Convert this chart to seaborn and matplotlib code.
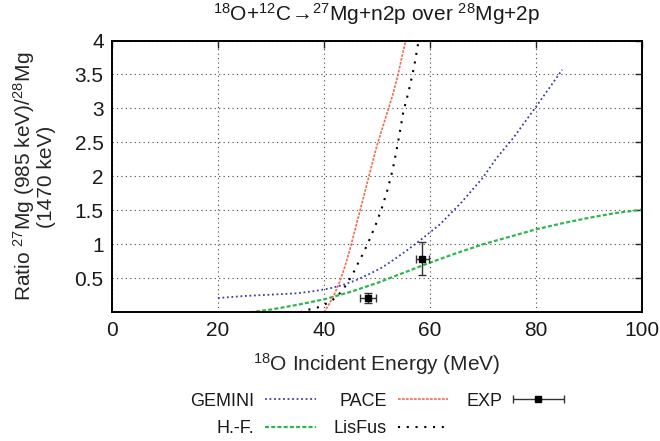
import numpy as np
import pandas as pd
import matplotlib
matplotlib.use("Agg")
import matplotlib.pyplot as plt
from matplotlib.container import ErrorbarContainer
from matplotlib.legend_handler import HandlerErrorbar
import seaborn as sns

# ---------------- data ----------------
gemini_x = [20, 25, 30, 35, 38, 41, 43.5, 46, 48.5, 51, 53.5, 56, 58.5, 62, 66, 70, 72.6, 75.7, 80, 85]
gemini_y = [0.21, 0.24, 0.26, 0.28, 0.31, 0.35, 0.40, 0.47, 0.56, 0.66, 0.79, 0.93, 1.08, 1.30, 1.62, 1.98, 2.27, 2.56, 3.02, 3.57]

hf_x = [26, 30, 35, 40, 45, 50, 55, 60, 65, 70, 75, 80, 85, 90, 95, 100]
hf_y = [0.0, 0.04, 0.11, 0.19, 0.30, 0.43, 0.58, 0.73, 0.87, 1.00, 1.11, 1.22, 1.31, 1.39, 1.46, 1.51]

pace_x = [40.0, 41.0, 42.0, 43.0, 44.0, 45.0, 46.0, 47.0, 48.0, 49.0, 50.0, 51.0, 52.0, 53.0, 54.0, 55.0, 55.6]
pace_y = [0.0, 0.12, 0.27, 0.45, 0.68, 0.95, 1.25, 1.55, 1.85, 2.15, 2.45, 2.70, 2.95, 3.20, 3.50, 3.85, 4.05]

lisfus_x = [35.5, 36.5, 38.5, 40.5, 42.0, 43.5, 44.5, 45.5, 46.5, 47.5, 48.5, 50.0, 51.0, 52.0, 53.0, 54.0, 55.0, 56.0, 57.0, 58.0]
lisfus_y = [0.0, 0.03, 0.06, 0.13, 0.20, 0.32, 0.44, 0.57, 0.73, 0.88, 1.05, 1.33, 1.55, 1.80, 2.10, 2.50, 2.95, 3.25, 3.60, 4.05]

exp_x = [48.4, 58.6]
exp_y = [0.21, 0.79]
exp_xerr = [1.5, 1.2]
exp_yerr = [0.08, 0.24]

x_ticks = [0, 20, 40, 60, 80, 100]
y_ticks = [0.5, 1, 1.5, 2, 2.5, 3, 3.5, 4]

# ---------------- style ----------------
sns.set_style("white")
plt.rcParams["font.family"] = ["Liberation Sans", "DejaVu Sans"]
plt.rcParams["mathtext.fontset"] = "custom"
plt.rcParams["mathtext.rm"] = "Liberation Sans"
plt.rcParams["mathtext.it"] = "Liberation Sans:italic"
plt.rcParams["mathtext.bf"] = "Liberation Sans:bold"
plt.rcParams["mathtext.fallback"] = "stixsans"
plt.rcParams["text.color"] = "#1a1a1a"

FS = 15

fig = plt.figure(figsize=(6.6, 4.41), dpi=100)
ax = fig.add_axes([112 / 660, 1 - 312.3 / 441, (641.7 - 112) / 660, (312.3 - 40.5) / 441])

sns.lineplot(x=gemini_x, y=gemini_y, ax=ax, color="#3c3cae", lw=1.3,
             linestyle=(0, (1, 1.5)), label="GEMINI", sort=False, estimator=None)
sns.lineplot(x=hf_x, y=hf_y, ax=ax, color="#2db84d", lw=1.6,
             linestyle=(0, (1.8, 1.0)), label="H.-F.", sort=False, estimator=None)
sns.lineplot(x=pace_x, y=pace_y, ax=ax, color="#f26a4f", lw=1.2,
             linestyle=(0, (1.6, 0.8)), label="PACE", sort=False, estimator=None)
sns.lineplot(x=lisfus_x, y=lisfus_y, ax=ax, color="black", lw=1.5,
             linestyle=(0, (1, 3.2)), label="LisFus", sort=False, estimator=None)

cont = ax.errorbar(exp_x, exp_y, xerr=exp_xerr, yerr=exp_yerr, fmt="s", color="black",
                   ecolor="#333333", elinewidth=1.0, capsize=3, markersize=5,
                   label="_nolegend_")
data_line, caplines, barlinecols = cont.lines
exp_handle = ErrorbarContainer((data_line, tuple(caplines[:2]), tuple(barlinecols[:1])),
                               has_xerr=True, has_yerr=False, label="EXP")

ax.set_xlim(0, 100)
ax.set_ylim(0, 4)
ax.set_xticks(x_ticks)
ax.set_yticks(y_ticks)
ax.set_xticklabels([f"{v:g}" for v in x_ticks], fontsize=FS)
ax.set_yticklabels([f"{v:g}" for v in y_ticks], fontsize=FS)
ax.tick_params(direction="in", length=5, width=1.0, top=True, right=True,
               labelcolor="#1a1a1a", pad=6)
for s in ax.spines.values():
    s.set_visible(True)
    s.set_linewidth(1.4)
    s.set_color("black")

ax.grid(True, color="#444444", lw=0.8, linestyle=(0, (1, 3)))

ax.set_xlabel(r"$^{18}$O Incident Energy (MeV)", fontsize=FS, labelpad=8)
ax.set_ylabel("Ratio $^{27}$Mg (985 keV)/$^{28}$Mg\n(1470 keV)", fontsize=FS,
              linespacing=1.0)
ax.yaxis.set_label_coords(-0.105, 0.5)
fig.text(377 / 660, 1 - 14 / 441,
         r"$^{18}$O+$^{12}$C$\!\rightarrow\!$$^{27}$Mg+n2p over $^{28}$Mg+2p",
         ha="center", va="center", fontsize=FS)

handles, labels = ax.get_legend_handles_labels()
hmap = dict(zip(labels, handles))
hmap["EXP"] = exp_handle
order = ["GEMINI", "H.-F.", "PACE", "LisFus", "EXP"]
leg = ax.legend([hmap[k] for k in order], order, loc="center", ncol=3,
                bbox_to_anchor=(377 / 660, 1 - 415 / 441), bbox_transform=fig.transFigure,
                frameon=False, markerfirst=False, fontsize=13, handlelength=2.8,
                handletextpad=0.6, columnspacing=1.0, labelspacing=0.6, numpoints=1,
                handler_map={exp_handle: HandlerErrorbar(xerr_size=1.4, numpoints=1)})

fig.savefig("out.png", dpi=100)
